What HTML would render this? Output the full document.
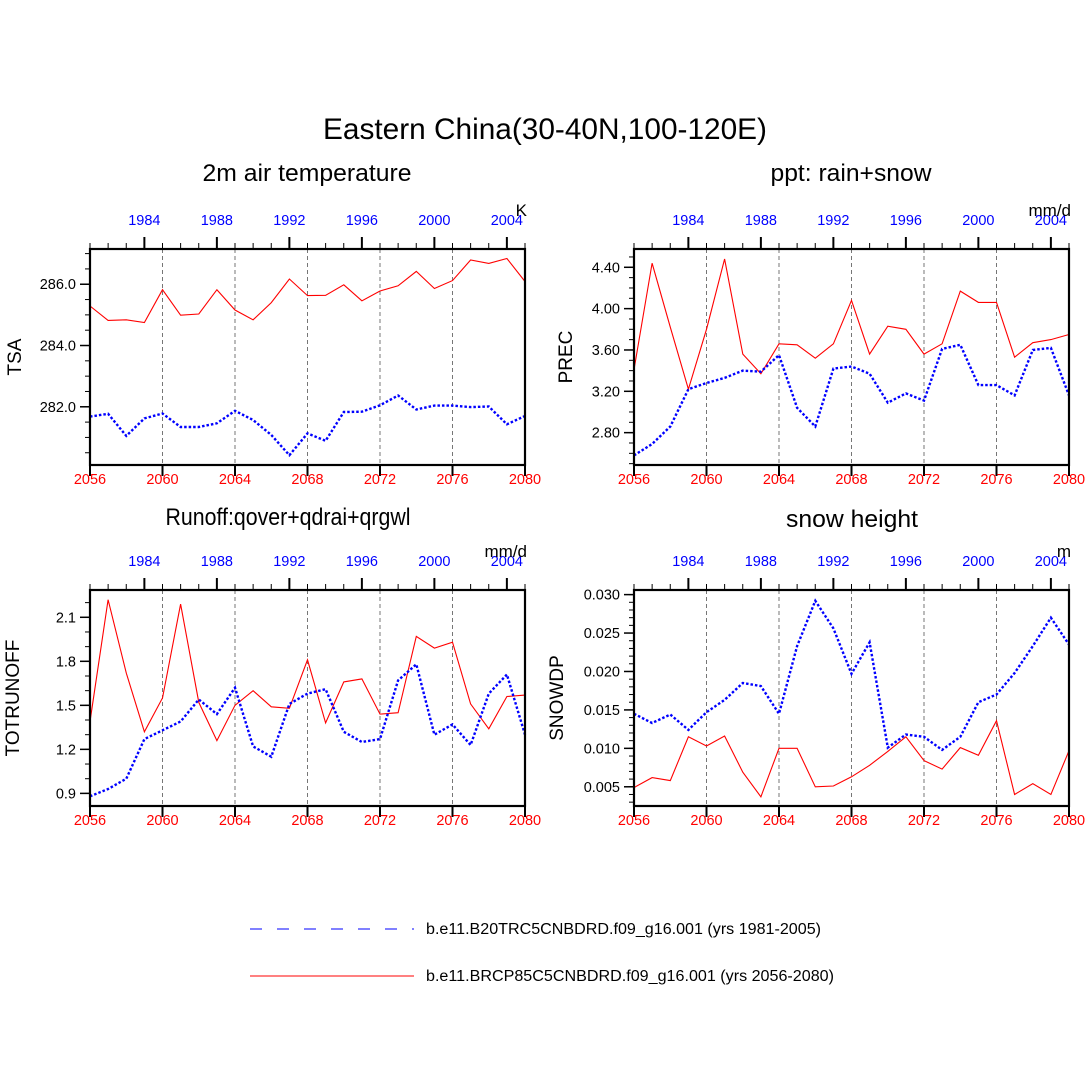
<!DOCTYPE html>
<html><head><meta charset="utf-8"><style>
html,body{margin:0;padding:0;background:#fff;}
svg{display:block;font-family:"Liberation Sans",sans-serif;}
</style></head><body>
<svg id="fig" width="1090" height="1090" viewBox="0 0 1090 1090" xmlns="http://www.w3.org/2000/svg">
<rect width="1090" height="1090" fill="#fff"/>
<text x="545" y="139" font-size="30" text-anchor="middle" textLength="444" lengthAdjust="spacingAndGlyphs">Eastern China(30-40N,100-120E)</text>
<g>
<line x1="250" y1="929" x2="414" y2="929" stroke="#0000ff" stroke-width="1" stroke-dasharray="12,15"/>
<text x="426" y="934" font-size="15.5" textLength="395" lengthAdjust="spacingAndGlyphs">b.e11.B20TRC5CNBDRD.f09_g16.001 (yrs 1981-2005)</text>
<line x1="250" y1="976" x2="414" y2="976" stroke="#ff0000" stroke-width="1"/>
<text x="426" y="981" font-size="15.5" textLength="408" lengthAdjust="spacingAndGlyphs">b.e11.BRCP85C5CNBDRD.f09_g16.001 (yrs 2056-2080)</text>
</g>
</svg>
<script>
const years = [2056,2057,2058,2059,2060,2061,2062,2063,2064,2065,2066,2067,2068,2069,2070,2071,2072,2073,2074,2075,2076,2077,2078,2079,2080];
const bottomTicks = [2056,2060,2064,2068,2072,2076,2080];
const topTicks = [1984,1988,1992,1996,2000,2004];
const gridYears = [2060,2064,2068,2072,2076];

const tsaFuture = [285.29,284.82,284.84,284.75,285.82,284.99,285.03,285.82,285.16,284.84,285.40,286.17,285.63,285.64,285.98,285.46,285.78,285.95,286.42,285.86,286.12,286.79,286.68,286.84,286.09];
const tsaHist = [281.68,281.77,281.05,281.62,281.78,281.34,281.34,281.46,281.87,281.57,281.08,280.42,281.13,280.89,281.83,281.84,282.05,282.37,281.91,282.04,282.04,281.99,282.01,281.43,281.70];
const tsaTicks = [282,284,286];

const precFuture = [3.41,4.44,3.82,3.22,3.80,4.48,3.56,3.37,3.66,3.65,3.52,3.66,4.08,3.56,3.83,3.80,3.56,3.66,4.17,4.06,4.06,3.53,3.67,3.70,3.75];
const precHist = [2.58,2.69,2.86,3.22,3.28,3.33,3.40,3.39,3.55,3.04,2.86,3.42,3.44,3.37,3.09,3.18,3.11,3.61,3.65,3.26,3.26,3.16,3.60,3.62,3.16];
const precTicks = [2.8,3.2,3.6,4.0,4.4];

const runFuture = [1.39,2.22,1.72,1.32,1.55,2.19,1.52,1.26,1.50,1.60,1.49,1.48,1.81,1.38,1.66,1.68,1.44,1.45,1.97,1.89,1.93,1.51,1.34,1.56,1.57];
const runHist = [0.88,0.93,1.00,1.27,1.33,1.39,1.54,1.44,1.62,1.22,1.15,1.51,1.58,1.61,1.32,1.25,1.27,1.67,1.78,1.30,1.37,1.23,1.58,1.71,1.30];
const runTicks = [0.9,1.2,1.5,1.8,2.1];

const snowFuture = [0.0049,0.0062,0.0058,0.0115,0.0103,0.0116,0.0069,0.0037,0.0100,0.0100,0.0050,0.0051,0.0063,0.0078,0.0096,0.0115,0.0084,0.0073,0.0101,0.0091,0.0136,0.0040,0.0054,0.0040,0.0097];
const snowHist = [0.0145,0.0133,0.0144,0.0124,0.0147,0.0163,0.0185,0.0181,0.0145,0.0233,0.0292,0.0256,0.0197,0.0238,0.0101,0.0118,0.0115,0.0098,0.0115,0.0160,0.0170,0.0198,0.0233,0.0270,0.0235];
const snowTicks = [0.005,0.010,0.015,0.020,0.025,0.030];

const NS = "http://www.w3.org/2000/svg";
const svg = document.getElementById("fig");
function mk(tag, attrs, parent){
  const e = document.createElementNS(NS, tag);
  for (const k in attrs) e.setAttribute(k, attrs[k]);
  parent.appendChild(e);
  return e;
}

function panel(cfg){
  const g = mk("g", {}, svg);
  
  
  const L=cfg.x, R=cfg.x+435, T=cfg.y, B=cfg.y+216;
  const xs = v => L + (v-2056)/(2080-2056)*(R-L);
  const ys = v => B - (v-cfg.ymin)/(cfg.ymax-cfg.ymin)*(B-T);

  const st = mk("text", {x:cfg.tx, y:cfg.ty, "font-size":24, "text-anchor":"middle", textLength:cfg.tw, lengthAdjust:"spacingAndGlyphs"}, g);
  st.textContent = cfg.title;
  
  

  gridYears.forEach(yr=>{
    const l = mk("line", {x1:xs(yr), x2:xs(yr), y1:T, y2:B, stroke:"#555", "stroke-width":0.8, "stroke-dasharray":"4,3"}, g);
    
    
  });

  for (let v = Math.ceil(cfg.ymin/cfg.minor-1e-9)*cfg.minor; v <= cfg.ymax+1e-12; v += cfg.minor){
    const y = ys(v);
    if (y < T-0.5 || y > B+0.5) continue;
    const t = mk("line", {x1:L-5, x2:L, y1:y, y2:y, stroke:"#000", "stroke-width":1}, g);
    
    
  }
  cfg.ticks.forEach(v=>{
    const y = ys(v);
    const t = mk("line", {x1:L-10, x2:L, y1:y, y2:y, stroke:"#000", "stroke-width":1.5}, g);
    
    
    const lb = mk("text", {x:L-14, y:y+5, "font-size":14.5, "text-anchor":"end"}, g);
    lb.textContent = v.toFixed(cfg.dec);
    
    
  });
  const yt = mk("text", {x:0, y:0, "font-size":19, "text-anchor":"middle", transform:`translate(${cfg.ytx},${(T+B)/2}) rotate(-90)`}, g);
  yt.textContent = cfg.ylabel;
  
  

  years.forEach((yr,i)=>{
    const hy = 1981+i;
    const major = topTicks.includes(hy);
    const t = mk("line", {x1:xs(yr), x2:xs(yr), y1:T-(major?12:6), y2:T, stroke:"#000", "stroke-width":major?2:1}, g);
    
    
    if (major){
      const lb = mk("text", {x:xs(yr), y:T-24, "font-size":14.5, "text-anchor":"middle", fill:"#0000ff"}, g);
      lb.textContent = hy;
      
      
    }
  });
  const un = mk("text", {x:R+2, y:T-33, "font-size":17, "text-anchor":"end"}, g);
  un.textContent = cfg.units;
  
  

  bottomTicks.forEach(yr=>{
    const t = mk("line", {x1:xs(yr), x2:xs(yr), y1:B, y2:B+11, stroke:"#000", "stroke-width":2}, g);
    
    
    const lb = mk("text", {x:xs(yr), y:B+19, "font-size":14.5, "text-anchor":"middle", fill:"#ff0000"}, g);
    lb.textContent = yr;
    
    
  });

  const pf = years.map((yr,i)=>xs(yr).toFixed(1)+","+ys(cfg.fut[i]).toFixed(1)).join(" ");
  const lf = mk("polyline", {points:pf, fill:"none", stroke:"#ff0000", "stroke-width":1.1}, g);
  
  
  const ph = years.map((yr,i)=>xs(yr).toFixed(1)+","+ys(cfg.hist[i]).toFixed(1)).join(" ");
  const lh = mk("polyline", {points:ph, fill:"none", stroke:"#0000ff", "stroke-width":2.4, "stroke-dasharray":"2.5,2"}, g);
  
  

  const fr = mk("rect", {x:L, y:T, width:R-L, height:B-T, fill:"none", stroke:"#000", "stroke-width":2.2}, g);
  
  
}

panel({name:"panel-tsa", x:90, y:249, ymin:280.1, ymax:287.15, ticks:tsaTicks, minor:0.5, dec:1, ylabel:"TSA", ytx:21, units:"K", title:"2m air temperature", tx:307, ty:181, tw:209, fut:tsaFuture, hist:tsaHist});
panel({name:"panel-prec", x:634, y:249, ymin:2.487, ymax:4.577, ticks:precTicks, minor:0.1, dec:2, ylabel:"PREC", ytx:572, units:"mm/d", title:"ppt: rain+snow", tx:851, ty:181, tw:161, fut:precFuture, hist:precHist});
panel({name:"panel-runoff", x:90, y:590, ymin:0.814, ymax:2.286, ticks:runTicks, minor:0.1, dec:1, ylabel:"TOTRUNOFF", ytx:19, units:"mm/d", title:"Runoff:qover+qdrai+qrgwl", tx:288, ty:525, tw:245, fut:runFuture, hist:runHist});
panel({name:"panel-snow", x:634, y:590, ymin:0.0025, ymax:0.0306, ticks:snowTicks, minor:0.001, dec:3, ylabel:"SNOWDP", ytx:563, units:"m", title:"snow height", tx:852, ty:527, tw:132, fut:snowFuture, hist:snowHist});
</script>
</body></html>
